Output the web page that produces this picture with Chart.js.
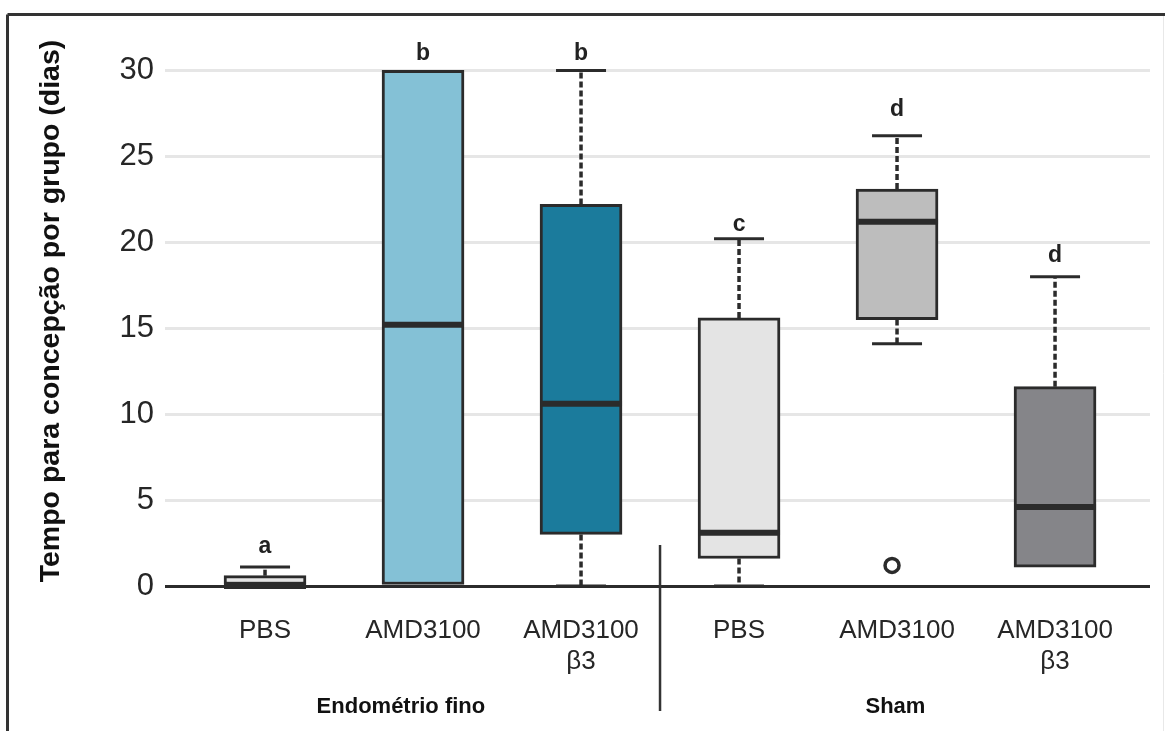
<!DOCTYPE html>
<html>
<head>
<meta charset="utf-8">
<script src="https://cdn.jsdelivr.net/npm/chart.js@4.4.1/dist/chart.umd.min.js"></script>
<style>
  html, body { margin: 0; padding: 0; background: #fff; }
  canvas { display: block; }
</style>
</head>
<body>
<canvas id="chart" width="1165" height="731"></canvas>
<script>
// Groups and five-number summaries (days to conception)
const groups = ['PBS', 'AMD3100', 'AMD3100 β3', 'PBS', 'AMD3100', 'AMD3100 β3'];
const tickLabels = [['PBS'], ['AMD3100'], ['AMD3100', 'β3'], ['PBS'], ['AMD3100'], ['AMD3100', 'β3']];
const whiskerLow  = [0,   0,    0,    0,    14.1, 1.1];
const q1          = [0,   0,    3.0,  1.6,  15.5, 1.1];
const median      = [0,   15.2, 10.6, 3.1,  21.2, 4.6];
const q3          = [0.6, 30,   22.2, 15.6, 23.1, 11.6];
const whiskerHigh = [1.1, 30,   30,   20.2, 26.2, 18.0];
const outliers    = [[], [], [], [], [1.2], []];
const letters     = ['a', 'b', 'b', 'c', 'd', 'd'];
const yTicks      = [0, 5, 10, 15, 20, 25, 30];
const sections    = ['Endométrio fino', 'Sham'];

// Layout constants (axis units)
const letterY   = [2.3, 31.0, 31.0, 21.0, 27.7, 19.2];
const sectionX  = [0.86, 3.99];
const dividerX  = 2.5;

const INK = '#2b2b2b';
const FONT = '"Liberation Sans", Arial, sans-serif';
const boxColors = ['#e4e4e4', '#84c1d6', '#1b7b9c', '#e4e4e4', '#bdbdbd', '#858589'];

function seg(ctx, x1, y1, x2, y2) {
  ctx.beginPath();
  ctx.moveTo(x1, y1);
  ctx.lineTo(x2, y2);
  ctx.stroke();
}

const boxPlot = {
  id: 'boxPlot',
  beforeDraw(chart) {
    const ctx = chart.ctx;
    ctx.save();
    ctx.fillStyle = '#fff';
    ctx.fillRect(0, 0, chart.width, chart.height);
    // outer frame
    ctx.strokeStyle = '#e8e8e8';
    ctx.lineWidth = 1;
    seg(ctx, 1163.5, 16, 1163.5, chart.height);
    ctx.strokeStyle = '#333';
    ctx.lineWidth = 3;
    seg(ctx, 7.5, chart.height, 7.5, 14.5);
    seg(ctx, 7.5, 14.5, chart.width, 14.5);
    ctx.restore();
  },
  afterDatasetsDraw(chart) {
    const { ctx, scales: { x, y } } = chart;
    const bars = chart.getDatasetMeta(0).data;
    ctx.save();
    ctx.strokeStyle = INK;
    groups.forEach((g, i) => {
      const cx = x.getPixelForValue(i);
      const half = bars[i].width / 2;
      const capHalf = 25;
      // whiskers
      ctx.lineWidth = 3.5;
      ctx.setLineDash([6, 3]);
      if (whiskerHigh[i] > q3[i]) seg(ctx, cx, y.getPixelForValue(q3[i]), cx, y.getPixelForValue(whiskerHigh[i]));
      if (whiskerLow[i] < q1[i]) seg(ctx, cx, y.getPixelForValue(q1[i]), cx, y.getPixelForValue(whiskerLow[i]));
      ctx.setLineDash([]);
      ctx.lineWidth = 3;
      if (whiskerHigh[i] > q3[i]) {
        const py = y.getPixelForValue(whiskerHigh[i]);
        seg(ctx, cx - capHalf, py, cx + capHalf, py);
      }
      if (whiskerLow[i] < q1[i]) {
        const py = y.getPixelForValue(whiskerLow[i]);
        seg(ctx, cx - capHalf, py, cx + capHalf, py);
      }
      // median
      ctx.lineWidth = 6;
      const my = y.getPixelForValue(median[i]);
      seg(ctx, cx - half, my, cx + half, my);
      // outliers
      ctx.lineWidth = 3.5;
      outliers[i].forEach(v => {
        ctx.beginPath();
        ctx.arc(cx - 5, y.getPixelForValue(v), 7, 0, Math.PI * 2);
        ctx.fillStyle = '#fff';
        ctx.fill();
        ctx.stroke();
      });
      // significance letters
      ctx.fillStyle = '#222';
      ctx.font = 'bold 23px ' + FONT;
      ctx.textAlign = 'center';
      ctx.textBaseline = 'middle';
      ctx.fillText(letters[i], cx, y.getPixelForValue(letterY[i]));
    });
    ctx.restore();
  },
  afterDraw(chart) {
    const { ctx, scales: { x } } = chart;
    ctx.save();
    // divider between the two sections
    ctx.strokeStyle = '#333';
    ctx.lineWidth = 2.5;
    const dx = x.getPixelForValue(dividerX);
    seg(ctx, dx, 545, dx, 711);
    // section names
    ctx.fillStyle = '#111';
    ctx.font = 'bold 22px ' + FONT;
    ctx.textAlign = 'center';
    ctx.textBaseline = 'middle';
    sections.forEach((s, k) => ctx.fillText(s, x.getPixelForValue(sectionX[k]), 707));
    ctx.restore();
  }
};

new Chart(document.getElementById('chart'), {
  type: 'bar',
  data: {
    datasets: [{
      data: groups.map((g, i) => ({ x: i, y: [q1[i], q3[i]] })),
      backgroundColor: boxColors,
      borderColor: INK,
      borderWidth: 3,
      borderSkipped: false,
      barThickness: 82
    }]
  },
  options: {
    responsive: false,
    animation: false,
    devicePixelRatio: 1,
    layout: { padding: { top: 36, right: 15, left: 0, bottom: 0 } },
    plugins: { legend: { display: false }, tooltip: { enabled: false } },
    scales: {
      x: {
        type: 'linear',
        min: -0.633,
        max: 5.601,
        offset: false,
        grid: { display: false },
        border: { display: false },
        afterBuildTicks: s => { s.ticks = groups.map((g, i) => ({ value: i })); },
        afterFit: s => { s.height = 145; },
        ticks: {
          callback: v => tickLabels[v],
          autoSkip: false,
          maxRotation: 0,
          minRotation: 0,
          padding: 21,
          color: '#262626',
          font: { family: FONT, size: 26 }
        }
      },
      y: {
        min: 0,
        max: 32,
        afterBuildTicks: s => { s.ticks = yTicks.map(v => ({ value: v })); },
        afterFit: s => { s.width = 165; },
        grid: {
          color: c => (c.tick && c.tick.value === 0 ? INK : '#e6e6e6'),
          lineWidth: 3,
          drawTicks: false
        },
        border: { display: false },
        ticks: { padding: 11, color: '#262626', font: { family: FONT, size: 31 } },
        title: {
          display: true,
          text: 'Tempo para concepção por grupo (dias)',
          color: '#111',
          font: { family: FONT, size: 28.5, weight: 'bold' },
          padding: { top: 34, bottom: 0 }
        }
      }
    }
  },
  plugins: [boxPlot]
});
</script>
</body>
</html>
